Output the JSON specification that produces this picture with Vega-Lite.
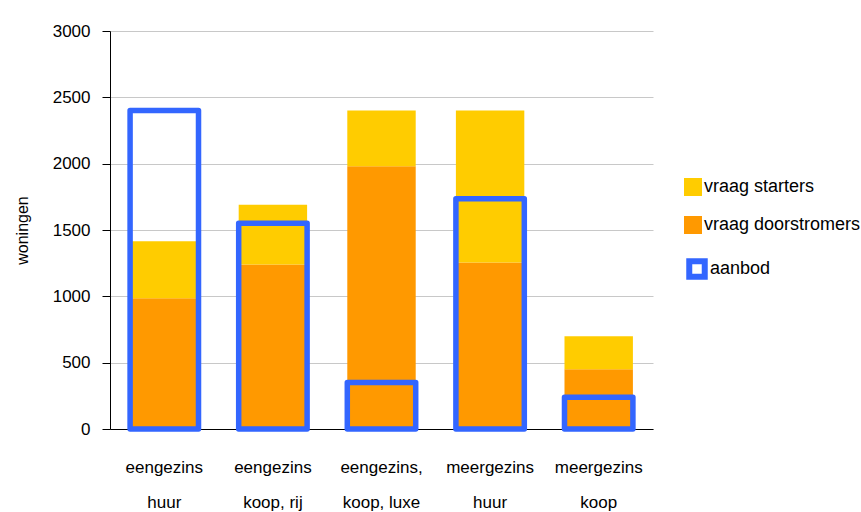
{
  "$schema": "https://vega.github.io/schema/vega-lite/v6.json",
  "width": 543,
  "height": 398,
  "autosize": {"type": "none"},
  "padding": {"left": 110, "top": 31, "right": 208, "bottom": 83},
  "background": "white",
  "config": {
    "view": {"stroke": null},
    "font": "Liberation Sans, Arial, sans-serif"
  },
  "data": {
    "values": [
      {"cat": "eengezins|huur", "series": "vraag doorstromers", "value": 985},
      {"cat": "eengezins|huur", "series": "vraag starters", "value": 430},
      {"cat": "eengezins|huur", "series": "aanbod", "value": 2400},
      {"cat": "eengezins|koop, rij", "series": "vraag doorstromers", "value": 1240},
      {"cat": "eengezins|koop, rij", "series": "vraag starters", "value": 450},
      {"cat": "eengezins|koop, rij", "series": "aanbod", "value": 1550},
      {"cat": "eengezins,|koop, luxe", "series": "vraag doorstromers", "value": 1980},
      {"cat": "eengezins,|koop, luxe", "series": "vraag starters", "value": 420},
      {"cat": "eengezins,|koop, luxe", "series": "aanbod", "value": 350},
      {"cat": "meergezins|huur", "series": "vraag doorstromers", "value": 1255},
      {"cat": "meergezins|huur", "series": "vraag starters", "value": 1145},
      {"cat": "meergezins|huur", "series": "aanbod", "value": 1735},
      {"cat": "meergezins|koop", "series": "vraag doorstromers", "value": 450},
      {"cat": "meergezins|koop", "series": "vraag starters", "value": 250},
      {"cat": "meergezins|koop", "series": "aanbod", "value": 240}
    ]
  },
  "layer": [
    {
      "transform": [{"filter": "datum.series !== 'aanbod'"}],
      "mark": {"type": "bar"},
      "encoding": {
        "x": {
          "field": "cat",
          "type": "nominal",
          "sort": null,
          "scale": {"paddingInner": 0.37, "paddingOuter": 0.185},
          "axis": {
            "title": null,
            "labelAngle": 0,
            "labelExpr": "split(datum.label, '|')",
            "labelFontSize": 17,
            "labelLineHeight": 35,
            "labelColor": "black",
            "labelPadding": 30,
            "ticks": false,
            "domainColor": "black",
            "domainWidth": 1,
            "grid": false
          }
        },
        "y": {
          "field": "value",
          "type": "quantitative",
          "stack": "zero",
          "scale": {"domain": [0, 3000], "nice": false},
          "axis": {
            "title": "woningen",
            "titleFontSize": 16,
            "titleFontWeight": "normal",
            "titleColor": "black",
            "titleX": -88,
            "titleBaseline": "middle",
            "values": [0, 500, 1000, 1500, 2000, 2500, 3000],
            "format": "d",
            "labelFontSize": 17,
            "labelColor": "black",
            "labelPadding": 12,
            "tickSize": 8,
            "tickColor": "black",
            "domainColor": "black",
            "gridColor": "#c8c8c8",
            "gridWidth": 1
          }
        },
        "fill": {
          "field": "series",
          "type": "nominal",
          "scale": {
            "domain": ["vraag starters", "vraag doorstromers"],
            "range": ["#FFCC00", "#FF9900"]
          },
          "legend": {
            "title": null,
            "orient": "none",
            "legendX": 574,
            "legendY": 147,
            "symbolType": "square",
            "symbolSize": 324,
            "symbolStrokeWidth": 0,
            "labelFontSize": 18,
            "labelColor": "black",
            "labelOffset": 2,
            "labelLimit": 0,
            "rowPadding": 20
          }
        },
        "order": {"field": "series", "sort": "ascending"}
      }
    },
    {
      "transform": [{"filter": "datum.series === 'aanbod'"}],
      "mark": {"type": "bar", "fill": "transparent", "strokeWidth": 5.5, "strokeJoin": "round"},
      "encoding": {
        "x": {"field": "cat", "type": "nominal", "sort": null},
        "y": {"field": "value", "type": "quantitative", "stack": null},
        "stroke": {
          "field": "series",
          "type": "nominal",
          "scale": {"domain": ["aanbod"], "range": ["#3366FF"]},
          "legend": {
            "title": null,
            "orient": "none",
            "legendX": 576,
            "legendY": 227,
            "symbolType": "square",
            "symbolSize": 240,
            "symbolStrokeWidth": 6,
            "symbolFillColor": "white",
            "labelFontSize": 18,
            "labelColor": "black",
            "labelOffset": 2,
            "labelLimit": 0
          }
        }
      }
    }
  ]
}
